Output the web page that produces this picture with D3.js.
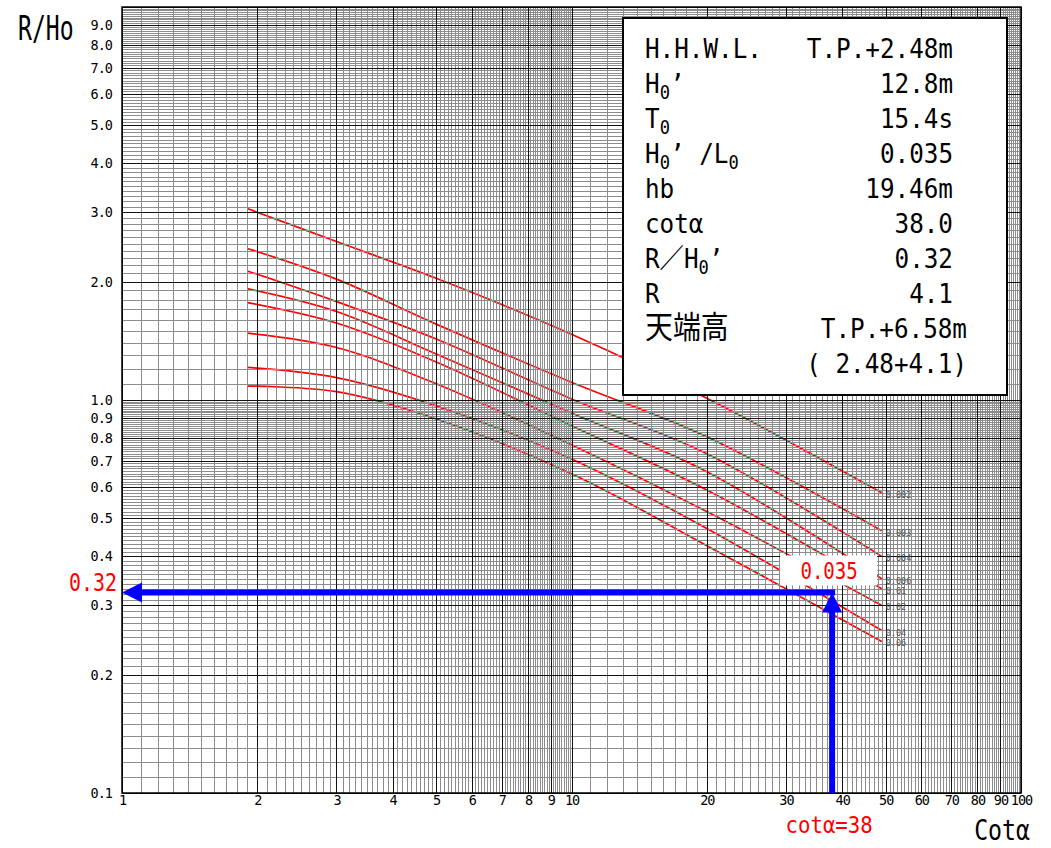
<!DOCTYPE html>
<html>
<head>
<meta charset="utf-8">
<script src="https://cdn.jsdelivr.net/npm/d3@7"></script>
<style>
  body { margin: 0; background: #fff; }
  text { font-family: "DejaVu Sans Mono", "Noto Sans CJK JP", monospace; }
</style>
</head>
<body>
<svg id="chart" width="1051" height="848"></svg>
<script>
// 打上げ高算定図（改良仮想勾配法） R/Ho' - cotα

// x positions of the read points (cot α)
const cotValues = [1.9, 3, 5, 10, 20, 49];

// one curve per wave steepness H0'/L0
const steepness = ["0.002", "0.003", "0.004", "0.006", "0.01", "0.02", "0.04", "0.06"];
const r0002 = [3.07, 2.53, 2.04, 1.47, 1.01, 0.581];
const r0003 = [2.43, 2.03, 1.56, 1.11, 0.806, 0.465];
const r0004 = [2.13, 1.78, 1.43, 1.006, 0.73, 0.40];
const r0006 = [1.92, 1.68, 1.31, 0.927, 0.657, 0.351];
const r001 = [1.77, 1.57, 1.25, 0.86, 0.59, 0.331];
const r002 = [1.48, 1.36, 1.10, 0.769, 0.520, 0.30];
const r004 = [1.21, 1.14, 0.966, 0.708, 0.471, 0.259];
const r006 = [1.085, 1.05, 0.895, 0.649, 0.426, 0.243];

const xTickValues = [1, 2, 3, 4, 5, 6, 7, 8, 9, 10, 20, 30, 40, 50, 60, 70, 80, 90, 100];
const yTickValues = [0.1, 0.2, 0.3, 0.4, 0.5, 0.6, 0.7, 0.8, 0.9, 1, 2, 3, 4, 5, 6, 7, 8, 9];

// reading for this case
const readCot = 38;
const readRunup = 0.32;
const readSteep = "0.035";

const infoLabels = ["H.H.W.L.", "H_0’", "T_0", "H_0’ /L_0", "hb", "cotα", "R／H_0’", "R", "天端高", ""];
const infoValues = ["T.P.+2.48m", "12.8m", "15.4s", "0.035", "19.46m", "38.0", "0.32", "4.1", "T.P.+6.58m", "( 2.48+4.1)"];

const svg = d3.select("#chart");

const x = d3.scaleLog().domain([1, 100]).range([122, 1021]);
const y = d3.scaleLog().domain([0.1, 10]).range([793, 7]);
const [x0, x1] = x.range();
const [y0, y1] = y.range();

const px = v => Math.round(v) + 0.5;

// curves (drawn under the grid, like the printed log paper)
const series = steepness.map((s, i) => ({
  label: s,
  values: [r0002, r0003, r0004, r0006, r001, r002, r004, r006][i]
}));

const line = d3.line()
  .x((d, i) => x(cotValues[i]))
  .y(d => y(d))
  .curve(d3.curveCatmullRom.alpha(0.5));

svg.append("g")
  .selectAll("path")
  .data(series)
  .join("path")
  .attr("d", d => line(d.values))
  .attr("fill", "none")
  .attr("stroke", "#ff0000")
  .attr("stroke-width", 1.7);

// log grid: every 1/10 of the decade base
function gridValues(decades) {
  const out = [];
  decades.forEach(d => {
    d3.range(0, 90).forEach(j => out.push({ v: d * (1 + j * 0.1), major: j % 10 === 0 }));
  });
  out.push({ v: decades[decades.length - 1] * 10, major: true });
  return out;
}
const gx = gridValues([1, 10]);
const gy = gridValues([0.1, 1]);

const grid = svg.append("g").attr("shape-rendering", "crispEdges");

grid.selectAll("line.minx")
  .data(gx.filter(d => !d.major))
  .join("line")
  .attr("x1", d => px(x(d.v))).attr("x2", d => px(x(d.v)))
  .attr("y1", y1).attr("y2", y0)
  .attr("stroke", "#8c8c8c");

grid.selectAll("line.miny")
  .data(gy.filter(d => !d.major))
  .join("line")
  .attr("y1", d => px(y(d.v))).attr("y2", d => px(y(d.v)))
  .attr("x1", x0).attr("x2", x1)
  .attr("stroke", "#8c8c8c");

grid.selectAll("line.majx")
  .data(gx.filter(d => d.major))
  .join("line")
  .attr("x1", d => px(x(d.v))).attr("x2", d => px(x(d.v)))
  .attr("y1", y1).attr("y2", y0)
  .attr("stroke", "#111");

grid.selectAll("line.majy")
  .data(gy.filter(d => d.major))
  .join("line")
  .attr("y1", d => px(y(d.v))).attr("y2", d => px(y(d.v)))
  .attr("x1", x0).attr("x2", x1)
  .attr("stroke", "#111");

svg.append("rect")
  .attr("x", x0).attr("y", y1)
  .attr("width", x1 - x0).attr("height", y0 - y1)
  .attr("fill", "none").attr("stroke", "#000").attr("stroke-width", 1.5);

// small steepness labels at the right end of each curve
svg.append("g")
  .selectAll("text")
  .data(series)
  .join("text")
  .attr("x", x(cotValues[cotValues.length - 1]) + 4)
  .attr("y", d => y(d.values[d.values.length - 1]) + 5)
  .attr("font-size", 8.5)
  .attr("fill", "#555")
  .text(d => d.label);

// axes
const yAxis = svg.append("g")
  .attr("transform", `translate(${x0},0)`)
  .call(d3.axisLeft(y).tickValues(yTickValues).tickSize(0).tickPadding(10).tickFormat(d3.format(".1f")));
yAxis.select(".domain").remove();
yAxis.selectAll("text")
  .attr("font-family", "DejaVu Sans Mono")
  .attr("font-size", 13.5)
  .attr("letter-spacing", -1)
  .attr("fill", "#000");

const xAxis = svg.append("g")
  .attr("transform", `translate(0,${y0})`)
  .call(d3.axisBottom(x).tickValues(xTickValues).tickSize(0).tickPadding(2).tickFormat(d3.format("d")));
xAxis.select(".domain").remove();
xAxis.selectAll("text")
  .attr("font-family", "DejaVu Sans Mono")
  .attr("font-size", 13.5)
  .attr("letter-spacing", -1)
  .attr("fill", "#000");

// reading arrows
const ax = x(readCot), ay = y(readRunup) - 2;
const blue = "#0000ff";
svg.append("line")
  .attr("x1", ax + 3).attr("x2", x0 + 18)
  .attr("y1", ay).attr("y2", ay)
  .attr("stroke", blue).attr("stroke-width", 6);
svg.append("path")
  .attr("d", `M${x0},${ay} L${x0 + 20},${ay - 10} L${x0 + 20},${ay + 10} Z`)
  .attr("fill", blue);
svg.append("line")
  .attr("x1", ax).attr("x2", ax)
  .attr("y1", y0).attr("y2", ay + 18)
  .attr("stroke", blue).attr("stroke-width", 6);
svg.append("path")
  .attr("d", `M${ax},${ay} L${ax - 10},${ay + 20} L${ax + 10},${ay + 20} Z`)
  .attr("fill", blue);

// steepness reading tag
svg.append("rect")
  .attr("x", ax - 52).attr("y", ay - 37)
  .attr("width", 97).attr("height", 30)
  .attr("fill", "#fff");
svg.append("text")
  .attr("transform", `translate(${ax - 3},${ay - 13}) scale(0.83,1)`)
  .attr("text-anchor", "middle")
  .attr("font-size", 23)
  .attr("fill", "#ff0000")
  .text(readSteep);

// red value labels on the axes
svg.append("text")
  .attr("transform", `translate(117,${ay - 1}) scale(0.83,1)`)
  .attr("text-anchor", "end")
  .attr("font-size", 24)
  .attr("fill", "#ff0000")
  .text(d3.format(".2f")(readRunup));

svg.append("text")
  .attr("transform", `translate(${ax - 3},833) scale(0.9,1)`)
  .attr("text-anchor", "middle")
  .attr("font-size", 23)
  .attr("fill", "#ff0000")
  .text("cotα=" + readCot);

// axis titles
svg.append("text")
  .attr("transform", "translate(18,40) scale(0.68,1)")
  .attr("font-size", 34)
  .attr("fill", "#000")
  .text("R/Ho");

svg.append("text")
  .attr("transform", "translate(1030,840) scale(0.8,1)")
  .attr("text-anchor", "end")
  .attr("font-size", 29)
  .attr("fill", "#000")
  .text("Cotα");

// info box
const box = svg.append("g");
box.append("rect")
  .attr("x", 623).attr("y", 18)
  .attr("width", 384).attr("height", 377)
  .attr("fill", "#fff").attr("stroke", "#000").attr("stroke-width", 2);

function richText(sel, str) {
  let buf = "", shifted = false;
  const flush = () => {
    if (!buf) return;
    const t = sel.append("tspan").text(buf);
    if (shifted) { t.attr("dy", -6); shifted = false; }
    buf = "";
  };
  for (let i = 0; i < str.length; i++) {
    if (str[i] === "_") {
      flush();
      sel.append("tspan").attr("font-size", 19).attr("dy", shifted ? 0 : 6).text(str[i + 1]);
      shifted = true;
      i++;
    } else {
      buf += str[i];
    }
  }
  flush();
}

infoLabels.forEach((lab, i) => {
  const by = 58 + i * 35;
  const t = box.append("text")
    .attr("transform", `translate(645,${by}) scale(0.9,1)`)
    .attr("font-size", /[\u3000-\u9fff]/.test(lab) ? 31 : 27)
    .attr("fill", "#000");
  richText(t, lab);
  box.append("text")
    .attr("transform", `translate(${i >= 8 ? 967 : 953},${by}) scale(0.9,1)`)
    .attr("text-anchor", "end")
    .attr("font-size", 27)
    .attr("fill", "#000")
    .text(infoValues[i]);
});
</script>
</body>
</html>
